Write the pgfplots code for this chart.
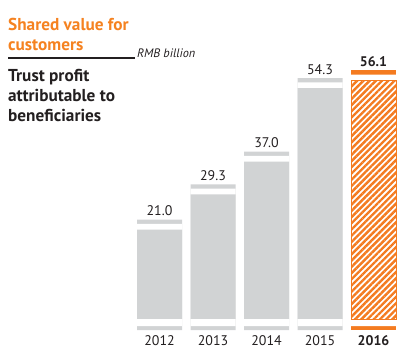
\documentclass[border=0pt]{standalone}
\usepackage{pgfplots}
\pgfplotsset{compat=1.18}
\usepackage{fontspec}
\setmainfont{PT Sans}
\usetikzlibrary{patterns.meta}
\definecolor{barorange}{HTML}{F47B20}
\definecolor{titleorange}{HTML}{F58220}
\definecolor{bargray}{HTML}{D1D3D4}
\definecolor{txt}{HTML}{231F20}
\begin{document}
\begin{tikzpicture}[x=1bp,y=1bp]
\useasboundingbox (0,0) rectangle (407,357);
\node[anchor=base west, inner sep=0, text=titleorange, font=\fontsize{17.3}{20}\selectfont\bfseries] at (8,327) {Shared value for};
\node[anchor=base west, inner sep=0, text=titleorange, font=\fontsize{17.3}{20}\selectfont\bfseries] at (8,307) {customers};
\draw[line width=1.2bp, txt] (8,299) -- (135,299);
\node[anchor=base west, inner sep=0, text=txt, font=\fontsize{12.3}{14}\selectfont\itshape] at (137,300) {RMB billion};
\node[anchor=base west, inner sep=0, text=txt, font=\fontsize{17.3}{20}\selectfont\bfseries] at (8,276) {Trust profit};
\node[anchor=base west, inner sep=0, text=txt, font=\fontsize{17.3}{20}\selectfont\bfseries] at (8,256) {attributable to};
\node[anchor=base west, inner sep=0, text=txt, font=\fontsize{17.3}{20}\selectfont\bfseries] at (8,236) {beneficiaries};
\begin{axis}[
  at={(132.75bp,25.25bp)}, anchor=south west,
  scale only axis, width=267.5bp, height=267.75bp,
  xmin=-0.5, xmax=4.5, ymin=-3, ymax=60,
  /pgf/number format/assume math mode=true,
  axis line style={draw=none}, major tick length=0pt,
  ytick=\empty,
  xtick={0,1,2,3,4},
  xticklabels={2012,2013,2014,2015,\textbf{2016}},
  xticklabel style={font=\fontsize{14}{15}\selectfont, text=txt},
  clip=false,
  mybar/.style={ybar, bar width=45bp, bar shift=0pt, draw=none},
  nodes near coords style={font=\fontsize{14}{15}\selectfont, text=txt, yshift=10.2bp},
]
% caps (value + 2.4) and gaps (value + 1.4)
\addplot[mybar, fill=bargray] coordinates {(0,23.4) (1,31.7) (2,39.4) (3,56.7)};
\addplot[mybar, fill=barorange] coordinates {(4,58.5)};
\addplot[mybar, fill=white] coordinates {(0,22.4) (1,30.7) (2,38.4) (3,55.7) (4,57.5)};
% bottom strips
\addplot[mybar, fill=bargray] coordinates {(0,-2.6) (1,-2.6) (2,-2.6) (3,-2.6)};
\addplot[mybar, fill=barorange] coordinates {(4,-2.6)};
\addplot[mybar, fill=white] coordinates {(0,-1.65) (1,-1.65) (2,-1.65) (3,-1.65) (4,-1.65)};
% main bars
\addplot[mybar, fill=bargray, nodes near coords={\pgfmathprintnumber[fixed,fixed zerofill,precision=1]{\pgfplotspointmeta}}] coordinates {(0,21.0) (1,29.3) (2,37.0) (3,54.3)};
\addplot[mybar, draw=barorange, line width=0.6bp, pattern={Lines[angle=45,distance=4.4bp,line width=2.4bp]}, pattern color=barorange,
  nodes near coords={\textbf{\pgfmathprintnumber[fixed,fixed zerofill,precision=1]{\pgfplotspointmeta}}}] coordinates {(4,56.1)};
\end{axis}
\end{tikzpicture}
\end{document}
